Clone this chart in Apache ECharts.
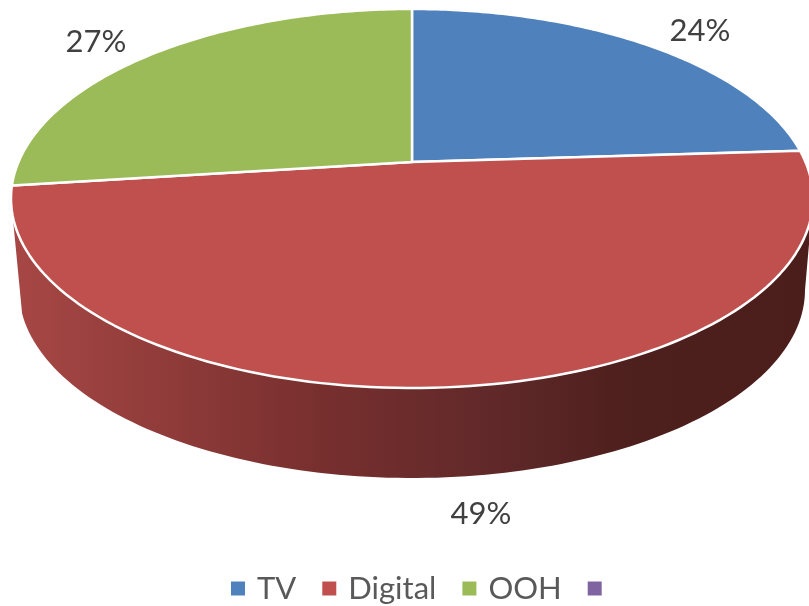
<!DOCTYPE html>
<html>
<head>
<meta charset="utf-8">
<style>
    html, body { margin: 0; padding: 0; background: #fff; }
    #main { width: 809px; height: 606px; }
</style>
</head>
<body>
<div id="main"></div>
<script src="https://cdn.jsdelivr.net/npm/echarts@6/dist/echarts.min.js"></script>
<script>
// 数据
const categories = ['TV', 'Digital', 'OOH', ' '];
const shares = [24, 49, 27, 0];
const colors = ['#4f81bd', '#c0504d', '#9bbb59', '#8064a2'];

// label centres, same order as categories
const labelX = [700, 481, 96];
const labelY = [31, 514, 42];

// tilted disc: apex of the slices, half sizes, perspective strength
const apexX = 412, apexY = 162;
const discA = 393.5, discB = 182.5, tilt = 0.1926;
// lower edge of the wall
const baseY = 290, baseA = 393, baseB = 188;
// the rim's silhouette, where the wall starts to show
const rimEdge = Math.acos(-tilt);

const total = shares.reduce((a, b) => a + b, 0);

function rim(t) {
    const u = Math.sin(t), v = -Math.cos(t);
    const w = 1 - tilt * v;
    return [apexX + discA * u / w, apexY + discB * v / w];
}

function base(t) {
    return [apexX + baseA * Math.sin(t), baseY - baseB * Math.cos(t)];
}

function arc(fn, from, to) {
    const pts = [];
    const steps = 120;
    for (let i = 0; i <= steps; i++) {
        pts.push(fn(from + (to - from) * i / steps));
    }
    return pts;
}

function renderSlice(params, api) {
    const idx = params.seriesIndex;
    if (!shares[idx]) return;
    let done = 0;
    for (let i = 0; i < idx; i++) done += shares[i];
    const from = done / total * Math.PI * 2;
    const to = (done + shares[idx]) / total * Math.PI * 2;
    const children = [];

    // wall, only for the part of the slice that faces us
    const rimFrom = Math.max(from, rimEdge), rimTo = Math.min(to, Math.PI * 2 - rimEdge);
    if (rimFrom < rimTo) {
        const baseFrom = Math.max(from, Math.PI / 2), baseTo = Math.min(to, Math.PI * 1.5);
        children.push({
            type: 'polygon',
            shape: { points: arc(rim, rimFrom, rimTo).concat(arc(base, baseTo, baseFrom)) },
            style: {
                fill: new echarts.graphic.LinearGradient(0, 0, 809, 0, [
                    { offset: 0, color: '#a94846' },
                    { offset: 0.15, color: '#963f3d' },
                    { offset: 0.4, color: '#772f2e' },
                    { offset: 0.6, color: '#62292a' },
                    { offset: 0.78, color: '#4d1f1d' },
                    { offset: 1, color: '#4c1e1b' }
                ], true)
            }
        });
    }

    // top of the slice
    children.push({
        type: 'polygon',
        shape: { points: [[apexX, apexY]].concat(arc(rim, from, to)) },
        style: { fill: colors[idx], stroke: '#fff', lineWidth: 2.5, lineJoin: 'round' }
    });

    children.push({
        type: 'text',
        style: {
            x: labelX[idx],
            y: labelY[idx],
            text: shares[idx] + '%',
            fill: '#404040',
            fontFamily: 'Lato',
            fontSize: 31,
            align: 'center',
            verticalAlign: 'middle'
        }
    });
    return { type: 'group', children: children };
}

const chart = echarts.init(document.getElementById('main'));
chart.setOption({
    animation: false,
    backgroundColor: '#fff',
    legend: {
        left: 231,
        top: 573,
        padding: 0,
        icon: 'rect',
        itemWidth: 14,
        itemHeight: 14,
        itemGap: 26,
        textStyle: { color: '#595959', fontFamily: 'Lato', fontSize: 31, padding: [0, 0, 0, 7] },
        data: categories
    },
    series: categories.map((name, i) => ({
        type: 'custom',
        name: name,
        coordinateSystem: 'none',
        itemStyle: { color: colors[i] },
        renderItem: renderSlice,
        data: [shares[i]]
    }))
});
</script>
</body>
</html>
